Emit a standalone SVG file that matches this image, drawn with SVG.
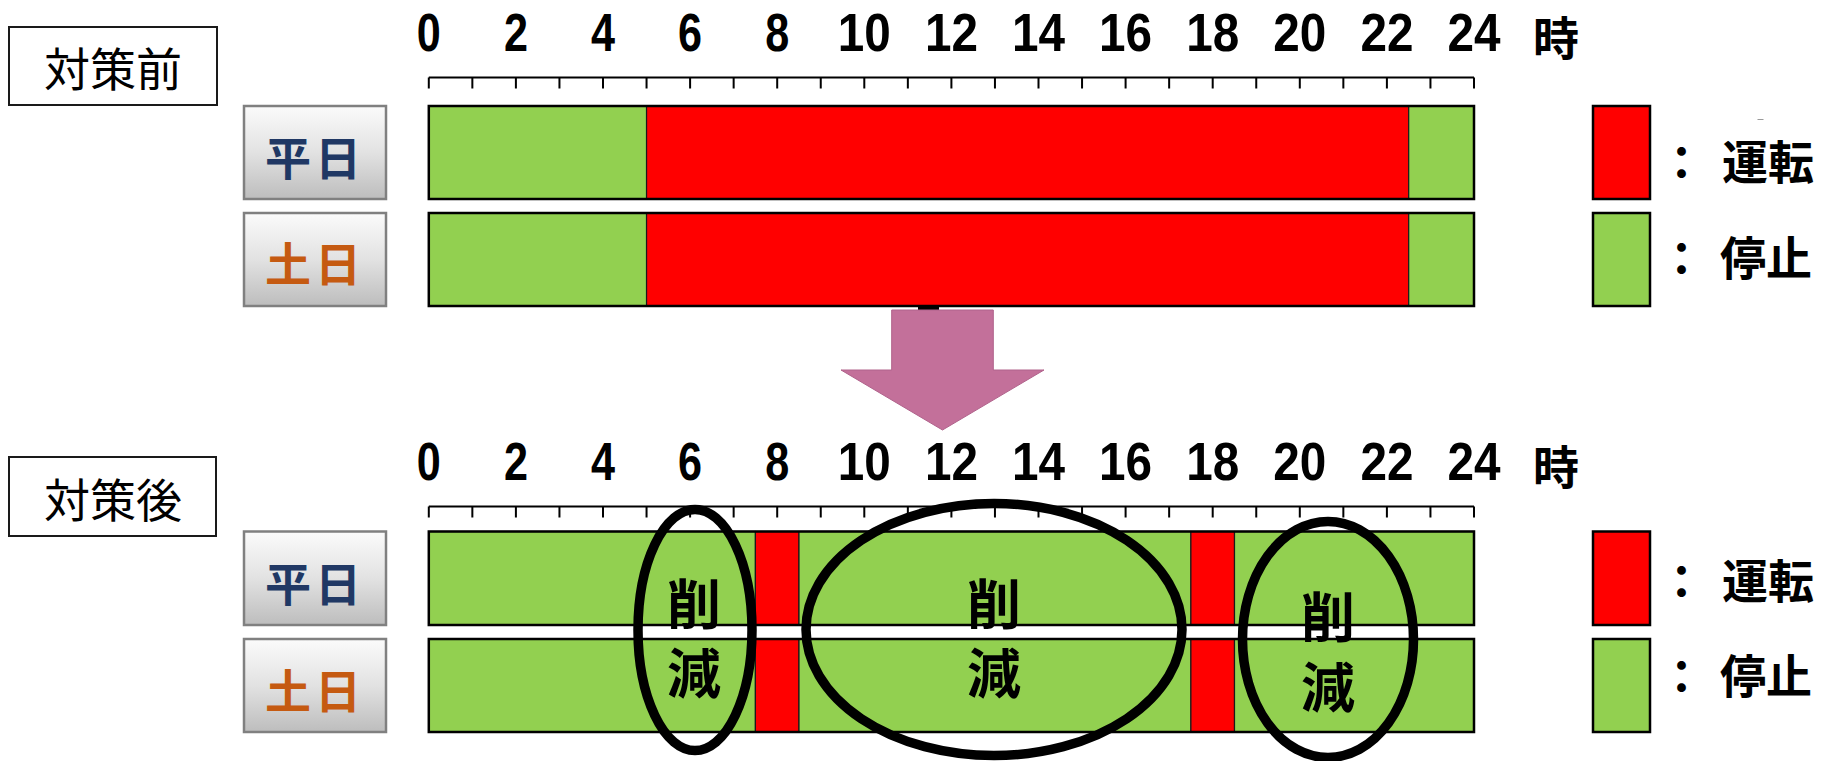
<svg xmlns="http://www.w3.org/2000/svg" xmlns:xlink="http://www.w3.org/1999/xlink" width="1827" height="761" viewBox="0 0 1827 761">
<style>
.title{font-family:"Noto Sans CJK JP","Noto Sans CJK SC",sans-serif;font-size:46px;font-weight:400;fill:#000;text-anchor:middle;dominant-baseline:central}
.num{font-family:"Liberation Sans",Arial,sans-serif;font-size:53px;font-weight:700;fill:#000;text-anchor:middle}
.ji{font-family:"Noto Sans CJK JP","Noto Sans CJK SC",sans-serif;font-size:46px;font-weight:700;fill:#000;text-anchor:middle;dominant-baseline:central}
.btn{fill:url(#btnGrad);stroke:#808080;stroke-width:2.5}
.btxt{font-family:"Noto Sans CJK JP","Noto Sans CJK SC",sans-serif;font-size:46px;font-weight:700;text-anchor:middle;dominant-baseline:central;letter-spacing:4px}
.wd{fill:#203864}
.we{fill:#c55a11}
.bar{fill:none;stroke:#000;stroke-width:2.5}
.g{fill:#92d050;stroke:#1a1a1a;stroke-width:1.2}
.r{fill:#ff0000;stroke:#1a1a1a;stroke-width:1.2}
.leg{stroke:#000;stroke-width:2.5}
.ltxt{font-family:"Noto Sans CJK JP","Noto Sans CJK SC",sans-serif;font-size:46px;font-weight:700;fill:#000;dominant-baseline:central}
.ell{fill:none;stroke:#000;stroke-width:9.5}
.cut{font-family:"Noto Sans CJK JP","Noto Sans CJK SC",sans-serif;font-size:54px;font-weight:700;fill:#000;text-anchor:middle;dominant-baseline:central}
.axis{fill:none;stroke:#000;stroke-width:2}
</style>
<defs>
<linearGradient id="btnGrad" x1="0" y1="0" x2="0" y2="1">
<stop offset="0" stop-color="#fbfbfb"/>
<stop offset="0.5" stop-color="#e2e2e2"/>
<stop offset="1" stop-color="#bdbdbd"/>
</linearGradient>
<g id="axis">
<path class="axis" d="M428.8 77.5H1474"/>
<path class="axis" d="M428.8 77.5V88.5M472.35 77.5V88.5M515.9 77.5V88.5M559.45 77.5V88.5M603 77.5V88.5M646.55 77.5V88.5M690.1 77.5V88.5M733.65 77.5V88.5M777.2 77.5V88.5M820.75 77.5V88.5M864.3 77.5V88.5M907.85 77.5V88.5M951.4 77.5V88.5M994.95 77.5V88.5M1038.5 77.5V88.5M1082.05 77.5V88.5M1125.6 77.5V88.5M1169.15 77.5V88.5M1212.7 77.5V88.5M1256.25 77.5V88.5M1299.8 77.5V88.5M1343.35 77.5V88.5M1386.9 77.5V88.5M1430.45 77.5V88.5M1474 77.5V88.5"/>
<text class="num" x="428.8" y="51" textLength="24" lengthAdjust="spacingAndGlyphs">0</text>
<text class="num" x="515.9" y="51" textLength="24" lengthAdjust="spacingAndGlyphs">2</text>
<text class="num" x="603" y="51" textLength="24" lengthAdjust="spacingAndGlyphs">4</text>
<text class="num" x="690.1" y="51" textLength="24" lengthAdjust="spacingAndGlyphs">6</text>
<text class="num" x="777.2" y="51" textLength="24" lengthAdjust="spacingAndGlyphs">8</text>
<text class="num" x="864.3" y="51" textLength="53" lengthAdjust="spacingAndGlyphs">10</text>
<text class="num" x="951.4" y="51" textLength="53" lengthAdjust="spacingAndGlyphs">12</text>
<text class="num" x="1038.5" y="51" textLength="53" lengthAdjust="spacingAndGlyphs">14</text>
<text class="num" x="1125.6" y="51" textLength="53" lengthAdjust="spacingAndGlyphs">16</text>
<text class="num" x="1212.7" y="51" textLength="53" lengthAdjust="spacingAndGlyphs">18</text>
<text class="num" x="1299.8" y="51" textLength="53" lengthAdjust="spacingAndGlyphs">20</text>
<text class="num" x="1386.9" y="51" textLength="53" lengthAdjust="spacingAndGlyphs">22</text>
<text class="num" x="1474" y="51" textLength="53" lengthAdjust="spacingAndGlyphs">24</text>
<text class="ji" x="1556" y="35">時</text>
</g>
</defs>

<g id="before-title">
<rect x="9" y="27" width="208" height="78" fill="#fff" stroke="#1a1a1a" stroke-width="2"/>
<text class="title" x="113" y="66">対策前</text>
</g>
<g id="before-axis"><use xlink:href="#axis"/></g>

<g id="before-weekday">
<rect class="btn" x="244" y="106" width="142" height="93"/>
<text class="btxt wd" x="315" y="155">平日</text>
<rect class="g" x="428.8" y="106" width="217.75" height="93"/>
<rect class="r" x="646.55" y="106" width="762.15" height="93"/>
<rect class="g" x="1408.7" y="106" width="65.3" height="93"/>
<rect class="bar" x="428.8" y="106" width="1045.2" height="93"/>
</g>
<g id="before-weekend">
<rect class="btn" x="244" y="213" width="142" height="93"/>
<text class="btxt we" x="315" y="261">土日</text>
<rect class="g" x="428.8" y="213" width="217.75" height="93"/>
<rect class="r" x="646.55" y="213" width="762.15" height="93"/>
<rect class="g" x="1408.7" y="213" width="65.3" height="93"/>
<rect class="bar" x="428.8" y="213" width="1045.2" height="93"/>
</g>

<g id="before-legend">
<rect class="leg" x="1593" y="106" width="57" height="93" fill="#ff0000"/>
<rect class="leg" x="1593" y="213" width="57" height="93" fill="#92d050"/>
<text class="ltxt"><tspan x="1658.5" y="159">：</tspan><tspan x="1722" y="159">運転</tspan></text>
<text class="ltxt"><tspan x="1658.5" y="255">：</tspan><tspan x="1720" y="255">停止</tspan></text>
<line x1="1757.5" y1="119.5" x2="1763.5" y2="119.5" stroke="#9a9a9a" stroke-width="1"/>
</g>

<g id="connectors">
<rect x="918" y="305" width="21" height="5" fill="#000"/>
<polygon points="891.7,310 993.3,310 993.3,370 1044,370 942.5,430 841,370 891.7,370" fill="#c3709a" stroke="#b0628b" stroke-width="1"/>
</g>

<g id="after-title">
<rect x="9" y="457" width="207" height="79" fill="#fff" stroke="#1a1a1a" stroke-width="2"/>
<text class="title" x="113" y="497">対策後</text>
</g>
<g id="after-axis"><use xlink:href="#axis" transform="translate(0,429)"/></g>

<g id="after-weekday">
<rect class="btn" x="244" y="531.5" width="142" height="93.5"/>
<text class="btxt wd" x="315" y="581">平日</text>
<rect class="g" x="428.8" y="531.5" width="326.6" height="93.5"/>
<rect class="r" x="755.4" y="531.5" width="43.6" height="93.5"/>
<rect class="g" x="799" y="531.5" width="391.9" height="93.5"/>
<rect class="r" x="1190.9" y="531.5" width="43.6" height="93.5"/>
<rect class="g" x="1234.5" y="531.5" width="239.5" height="93.5"/>
<rect class="bar" x="428.8" y="531.5" width="1045.2" height="93.5"/>
</g>
<g id="after-weekend">
<rect class="btn" x="244" y="639" width="142" height="93"/>
<text class="btxt we" x="315" y="688">土日</text>
<rect class="g" x="428.8" y="639" width="326.6" height="93"/>
<rect class="r" x="755.4" y="639" width="43.6" height="93"/>
<rect class="g" x="799" y="639" width="391.9" height="93"/>
<rect class="r" x="1190.9" y="639" width="43.6" height="93"/>
<rect class="g" x="1234.5" y="639" width="239.5" height="93"/>
<rect class="bar" x="428.8" y="639" width="1045.2" height="93"/>
</g>

<g id="after-legend">
<rect class="leg" x="1593" y="531.5" width="57" height="93.5" fill="#ff0000"/>
<rect class="leg" x="1593" y="639" width="57" height="93" fill="#92d050"/>
<text class="ltxt"><tspan x="1658.5" y="577.5">：</tspan><tspan x="1722" y="577.5">運転</tspan></text>
<text class="ltxt"><tspan x="1658.5" y="673">：</tspan><tspan x="1720" y="673">停止</tspan></text>
</g>

<g id="cut-1">
<ellipse class="ell" cx="695" cy="630" rx="57" ry="120.5"/>
<text class="cut"><tspan x="694" y="601">削</tspan><tspan x="694" y="670">減</tspan></text>
</g>
<g id="cut-2">
<ellipse class="ell" cx="994" cy="629.5" rx="188" ry="126"/>
<text class="cut"><tspan x="994" y="601">削</tspan><tspan x="994" y="670">減</tspan></text>
</g>
<g id="cut-3">
<ellipse class="ell" cx="1328" cy="639.5" rx="85.5" ry="118"/>
<text class="cut"><tspan x="1328" y="614">削</tspan><tspan x="1328" y="683.5">減</tspan></text>
</g>
</svg>
